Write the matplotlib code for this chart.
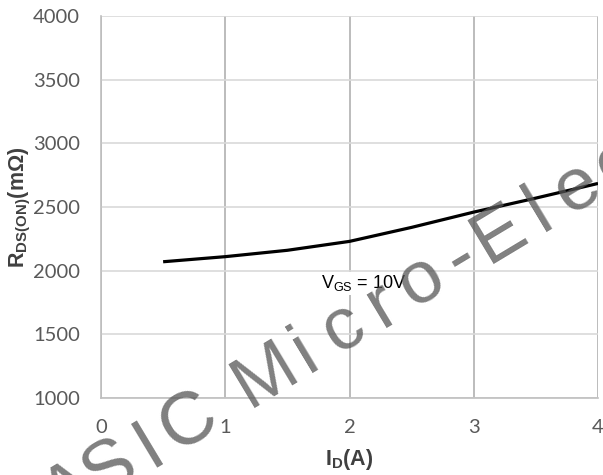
import numpy as np
import matplotlib
matplotlib.use("Agg")
import matplotlib.pyplot as plt

plt.rcParams['mathtext.fontset'] = 'custom'
plt.rcParams['mathtext.rm'] = 'Liberation Sans'
plt.rcParams['mathtext.bf'] = 'Liberation Sans:bold'

# drain current vs on-resistance, VGS = 10V
id_amp = [0.5, 1.0, 1.5, 2.0, 2.5, 3.0, 3.5, 4.0]
rds_on = [2070, 2110, 2160, 2230, 2340, 2460, 2570, 2685]

x_ticks = [0, 1, 2, 3, 4]
y_ticks = [1000, 1500, 2000, 2500, 3000, 3500, 4000]

W, H = 603, 475
fig = plt.figure(figsize=(W / 100, H / 100), dpi=100)
ax = fig.add_axes([101/W, 1 - 398/H, 497/W, 382/H])

ax.plot(id_amp, rds_on, color='black', lw=2.3, solid_capstyle='butt', zorder=3)

ax.set_xlim(0, 4)
ax.set_ylim(1000, 4000)
ax.set_xticks(x_ticks)
ax.set_yticks(y_ticks)
ax.tick_params(length=0, labelsize=14.5, colors='#595959')
ax.tick_params(axis='x', pad=15)
ax.tick_params(axis='y', pad=15)
for lab in ax.get_xticklabels() + ax.get_yticklabels():
    lab.set_family('Lato')

ax.xaxis.grid(True, color='#b0b0b0', lw=1.2)
ax.yaxis.grid(True, color='#d9d9d9', lw=1.2)
ax.set_axisbelow(True)
for side in ['top', 'right']:
    ax.spines[side].set_visible(False)
for side in ['left', 'bottom']:
    ax.spines[side].set_color('#bfbfbf')
    ax.spines[side].set_linewidth(1.2)

ax.set_xlabel(r'$\mathbf{I_{D}(A)}$', fontsize=15.5, color='#404040')
ax.xaxis.set_label_coords(0.5, -0.128)
ax.set_ylabel(r'$\mathbf{R_{DS(ON)}(m\Omega)}$', fontsize=15.5, color='#404040')
ax.yaxis.set_label_coords(-0.137, 0.5)

ax.text(1.77, 1900, r'V$_{\mathrm{GS}}$ = 10V', fontsize=13, family='Liberation Sans',
        color='black', ha='left', va='center', zorder=4,
        bbox=dict(facecolor='white', edgecolor='none', pad=1))

# company watermark, one glyph per slot along a slanted baseline
wm_text = 'ASIC Micro-Electronics'
ang = 31.0
pitch = 45.5
s0, t_base = -193.0, 478.0
ca, sa = np.cos(np.radians(ang)), np.sin(np.radians(ang))
for i, ch in enumerate(wm_text):
    if ch == ' ':
        continue
    s = s0 + i * pitch
    px = ca * s + sa * t_base
    py = -sa * s + ca * t_base
    fig.text(px / W, 1 - py / H, ch, fontsize=54,
             family=['Liberation Sans Narrow', 'Liberation Sans'],
             color='#555555', alpha=0.75, rotation=ang, rotation_mode='anchor',
             ha='center', va='baseline', zorder=10)

fig.savefig('out.png', dpi=100)
